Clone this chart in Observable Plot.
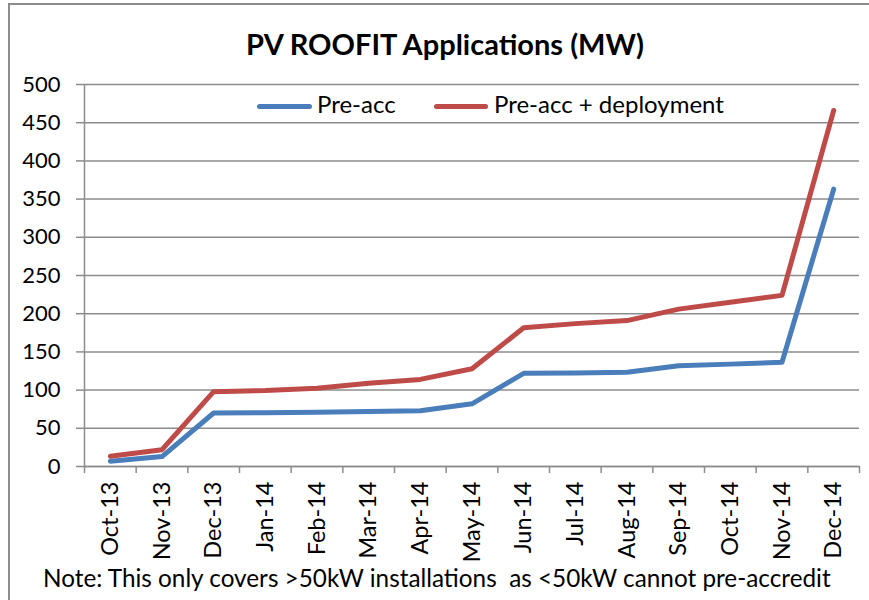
<!DOCTYPE html>
<html>
<head>
<meta charset="utf-8">
<script src="https://cdn.jsdelivr.net/npm/d3@7"></script>
<script src="https://cdn.jsdelivr.net/npm/@observablehq/plot@0.6"></script>
<style>
  body { margin: 0; background: #fff; }
  #wrap { position: relative; width: 869px; height: 600px; overflow: hidden; font-family: Lato, "Liberation Sans", sans-serif; color: #000; }
  #frame { position: absolute; left: 8px; top: 3px; width: 1000px; height: 1000px; border-left: 2px solid #8c8c8c; border-top: 2px solid #8c8c8c; }
  #chart { position: absolute; left: 0; top: 0; }
  .abs { position: absolute; white-space: pre; line-height: 1; }
  #title { left: 0; width: 890px; text-align: center; top: 29px; font-weight: bold; font-size: 29px; }
  .sw { position: absolute; height: 5px; border-radius: 3px; }
  .lg { font-size: 24px; top: 92px; }
  #note { left: 43px; top: 566px; font-size: 24.3px; }
</style>
</head>
<body>
<div id="wrap">
  <div id="frame"></div>
  <div id="chart"></div>
</div>
<script>
const months = ["Oct-13","Nov-13","Dec-13","Jan-14","Feb-14","Mar-14","Apr-14","May-14","Jun-14","Jul-14","Aug-14","Sep-14","Oct-14","Nov-14","Dec-14"];
const preAcc = [7, 13, 70, 70.5, 71, 72, 73, 82, 122, 122.5, 123.5, 132, 134, 136.5, 363];
const preAccDeployment = [13.5, 22, 98, 99.5, 102.5, 109, 114, 128, 181.5, 187, 191, 206, 215, 224, 466];
const seriesNames = ["Pre-acc", "Pre-acc + deployment"];
const seriesColors = ["#4A7EBB", "#BE4B48"];
const yTicks = d3.range(0, 501, 50);
const titleText = "PV ROOFIT Applications (MW)";
const noteText = "Note: This only covers >50kW installations  as <50kW cannot pre-accredit";

const rows = [];
months.forEach((m, i) => {
  rows.push({pos: i + 0.5, value: preAcc[i], series: seriesNames[0]});
  rows.push({pos: i + 0.5, value: preAccDeployment[i], series: seriesNames[1]});
});
const grey = "#8c8c8c";

const chart = Plot.plot({
  width: 869,
  height: 600,
  marginLeft: 84,
  marginRight: 10,
  marginTop: 84,
  marginBottom: 134,
  style: {fontFamily: "Lato, 'Liberation Sans', sans-serif", fontSize: "22px", color: "#000", background: "transparent", overflow: "visible"},
  x: {domain: [0, months.length], axis: null},
  y: {domain: [0, 500], axis: null},
  color: {domain: seriesNames, range: seriesColors},
  marks: [
    Plot.gridY(yTicks, {stroke: grey, strokeOpacity: 1, strokeWidth: 1.5}),
    Plot.axisY(yTicks, {label: null, tickSize: 8, tickPadding: 16, stroke: grey, strokeWidth: 1.5, fill: "#000", fontSize: 22}),
    Plot.ruleX([0], {stroke: grey, strokeWidth: 1.5}),
    Plot.ruleY([0], {stroke: grey, strokeWidth: 1.5}),
    Plot.axisX(d3.range(0, months.length + 1), {label: null, tickSize: 7, tickFormat: () => "", stroke: grey, strokeWidth: 1.5}),
    Plot.axisX(months.map((m, i) => i + 0.5), {label: null, tickSize: 0, tickPadding: 15, tickRotate: -90, tickFormat: d => months[Math.round(d - 0.5)], fill: "#000", fontSize: 23.5}),
    Plot.line(rows, {x: "pos", y: "value", z: "series", stroke: "series", strokeWidth: 5, strokeLinejoin: "round", strokeLinecap: "round"})
  ]
});
document.getElementById("chart").append(chart);

const wrap = document.getElementById("wrap");
const t = document.createElement("div");
t.id = "title"; t.className = "abs"; t.textContent = titleText;
wrap.append(t);

const legendItems = [
  {sx: 257, sw: 55, tx: 317},
  {sx: 434, sw: 54, tx: 494}
];
seriesNames.forEach((name, k) => {
  const s = document.createElement("div");
  s.className = "sw";
  s.style.left = legendItems[k].sx + "px";
  s.style.width = legendItems[k].sw + "px";
  s.style.top = "104px";
  s.style.background = seriesColors[k];
  wrap.append(s);
  const l = document.createElement("div");
  l.className = "abs lg";
  l.style.left = legendItems[k].tx + "px";
  l.textContent = name;
  wrap.append(l);
});

const n = document.createElement("div");
n.id = "note"; n.className = "abs"; n.textContent = noteText;
wrap.append(n);
</script>
</body>
</html>
